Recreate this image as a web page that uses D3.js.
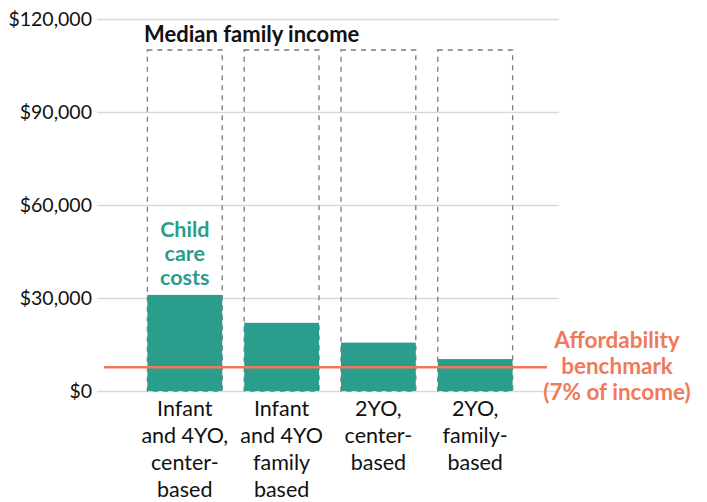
<!DOCTYPE html>
<html><head><meta charset="utf-8">
<script src="https://cdn.jsdelivr.net/npm/d3@7"></script>
<style>body{margin:0;background:#fff}svg{display:block}</style>
</head><body>
<svg id="c" width="707" height="502"></svg>
<script>
const categories = [
  ["Infant", "and 4YO,", "center-", "based"],
  ["Infant", "and 4YO", "family", "based"],
  ["2YO,", "center-", "based"],
  ["2YO,", "family-", "based"]
];
const medianIncome = [110000, 110000, 110000, 110000];
const childCareCosts = [31000, 22000, 15600, 10300];
const benchmarkShare = 0.07;
const yTicks = [0, 30000, 60000, 90000, 120000];

const FONT = "Lato, 'Open Sans', sans-serif";
const TEAL = "#2a9d8c", CORAL = "#ef7a5a";
const svg = d3.select("#c").style("font-family", FONT);

const y = d3.scaleLinear().domain([0, 120000]).range([391, 19]);
const x = d3.scaleBand().domain(d3.range(categories.length)).range([99, 561])
  .paddingInner(0.227).paddingOuter(0.5);

// y axis with gridlines
const yAxis = d3.axisLeft(y).tickValues(yTicks)
  .tickFormat(d => "$" + d3.format(",")(d)).tickSize(-462).tickPadding(5);
const ga = svg.append("g").attr("transform", "translate(97,0)").call(yAxis);
ga.select(".domain").remove();
ga.selectAll(".tick line").attr("stroke", "#d9d9d9").attr("stroke-width", 1.5);
ga.selectAll(".tick text").attr("font-size", 19.5).attr("fill", "#111").attr("font-family", FONT);

// dashed income boxes
svg.append("g").selectAll("rect").data(medianIncome).join("rect")
  .attr("x", (d, i) => x(i)).attr("width", x.bandwidth())
  .attr("y", d => y(d)).attr("height", d => y(0) - y(d))
  .attr("fill", "none").attr("stroke", "#7a7a7a").attr("stroke-width", 1.3)
  .attr("stroke-dasharray", "5,5");

// cost bars
svg.append("g").selectAll("rect").data(childCareCosts).join("rect")
  .attr("x", (d, i) => x(i)).attr("width", x.bandwidth())
  .attr("y", d => y(d)).attr("height", d => y(0) - y(d))
  .attr("fill", TEAL);

// benchmark line
const bench = benchmarkShare * medianIncome[0];
svg.append("line").attr("x1", 104).attr("x2", 547)
  .attr("y1", y(bench)).attr("y2", y(bench))
  .attr("stroke", CORAL).attr("stroke-width", 2.5);

// x labels
const xl = svg.append("g");
categories.forEach((lines, i) => {
  const t = xl.append("text").attr("text-anchor", "middle").attr("font-size", 21.5).attr("fill", "#111");
  lines.forEach((l, j) => t.append("tspan").attr("x", x(i) + x.bandwidth() / 2).attr("y", 416 + j * 27).text(l));
});

// annotations
svg.append("text").attr("x", 144).attr("y", 42).attr("font-size", 22).attr("font-weight", 700)
  .attr("fill", "#111").text("Median family income");

const cc = svg.append("text").attr("text-anchor", "middle").attr("font-size", 21.5)
  .attr("font-weight", 700).attr("fill", TEAL);
["Child", "care", "costs"].forEach((l, j) =>
  cc.append("tspan").attr("x", x(0) + x.bandwidth() / 2).attr("y", 237 + j * 24).text(l));

const ab = svg.append("text").attr("text-anchor", "middle").attr("font-size", 22.5)
  .attr("font-weight", 700).attr("fill", CORAL);
["Affordability", "benchmark", "(7% of income)"].forEach((l, j) =>
  ab.append("tspan").attr("x", 617).attr("y", 348 + j * 26).text(l));
</script>
</body></html>
